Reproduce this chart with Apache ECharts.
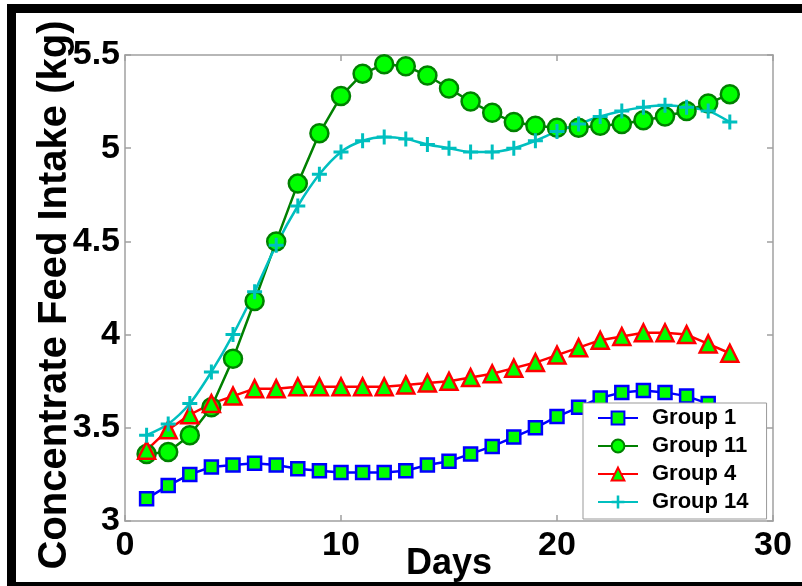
<!DOCTYPE html>
<html>
<head>
<meta charset="utf-8">
<script src="https://cdn.jsdelivr.net/npm/echarts@6/dist/echarts.min.js"></script>
<style>
html,body{margin:0;padding:0;background:#fff;}
#chart{width:802px;height:586px;}
</style>
</head>
<body>
<div id="chart"></div>
<script>
const days = [1,2,3,4,5,6,7,8,9,10,11,12,13,14,15,16,17,18,19,20,21,22,23,24,25,26,27,28];
const group1 = [3.12,3.19,3.25,3.29,3.30,3.31,3.30,3.28,3.27,3.26,3.26,3.26,3.27,3.30,3.32,3.36,3.40,3.45,3.50,3.56,3.61,3.66,3.69,3.70,3.69,3.67,3.63,3.59];
const group11 = [3.36,3.37,3.46,3.61,3.87,4.18,4.50,4.81,5.08,5.28,5.40,5.45,5.44,5.39,5.32,5.25,5.19,5.14,5.12,5.11,5.11,5.12,5.13,5.15,5.17,5.20,5.24,5.29];
const group4 = [3.38,3.49,3.57,3.63,3.67,3.71,3.71,3.72,3.72,3.72,3.72,3.72,3.73,3.74,3.75,3.77,3.79,3.82,3.85,3.89,3.93,3.97,3.99,4.01,4.01,4.00,3.95,3.90];
const group14 = [3.46,3.52,3.63,3.80,4.00,4.23,4.48,4.69,4.86,4.98,5.04,5.06,5.05,5.02,5.00,4.98,4.98,5.00,5.04,5.09,5.13,5.17,5.20,5.22,5.23,5.22,5.20,5.14];
const seriesNames = ['Group 1','Group 11','Group 4','Group 14'];
const xTitle = 'Days';
const yTitle = 'Concentrate Feed Intake (kg)';

const FONT = 'Liberation Sans, Arial, sans-serif';
const pair = arr => days.map((d,i)=>[d,arr[i]]);
const plusPath = 'path://M4,0h2v4h4v2h-4v4h-2v-4h-4v-2h4z';
const axisLineStyle = {color:'#a0a0a0', width:1.5};

const chart = echarts.init(document.getElementById('chart'), null, {renderer:'canvas'});
chart.setOption({
  animation:false,
  backgroundColor:'#ffffff',
  grid:{left:125, top:55, right:29, bottom:65, containLabel:false, outerBoundsMode:'none'},
  xAxis:[{
    type:'value', min:0, max:30, interval:10,
    name:xTitle, nameLocation:'middle', nameGap:25, nameMoveOverlap:false,
    nameTextStyle:{fontFamily:FONT, fontWeight:'bold', fontSize:36, color:'#000'},
    axisLine:{show:true, onZero:false, lineStyle:axisLineStyle},
    axisTick:{show:true, inside:true, length:6, lineStyle:axisLineStyle},
    axisLabel:{fontFamily:FONT, fontWeight:'bold', fontSize:34, color:'#000', margin:8},
    splitLine:{show:false}
  },{
    type:'value', min:0, max:30, interval:10, position:'top',
    axisLine:{show:true, onZero:false, lineStyle:axisLineStyle},
    axisTick:{show:true, inside:true, length:6, lineStyle:axisLineStyle},
    axisLabel:{show:false}, splitLine:{show:false}
  }],
  yAxis:[{
    type:'value', min:3, max:5.5, interval:0.5,
    name:yTitle, nameLocation:'middle', nameGap:50, nameRotate:90, nameMoveOverlap:false,
    nameTextStyle:{fontFamily:FONT, fontWeight:'bold', fontSize:40, color:'#000', padding:[0,14,0,0]},
    axisLine:{show:true, onZero:false, lineStyle:axisLineStyle},
    axisTick:{show:true, inside:true, length:6, lineStyle:axisLineStyle},
    axisLabel:{fontFamily:FONT, fontWeight:'bold', fontSize:34, color:'#000', margin:5},
    splitLine:{show:false}
  },{
    type:'value', min:3, max:5.5, interval:0.5, position:'right',
    axisLine:{show:true, onZero:false, lineStyle:axisLineStyle},
    axisTick:{show:true, inside:true, length:6, lineStyle:axisLineStyle},
    axisLabel:{show:false}, splitLine:{show:false}
  }],
  legend:{
    orient:'vertical', left:583, top:403,
    backgroundColor:'#fff', borderColor:'#999', borderWidth:1,
    padding:[4,18,6,14], itemWidth:40, itemHeight:16, itemGap:6,
    textStyle:{fontFamily:FONT, fontWeight:'bold', fontSize:22, color:'#000', lineHeight:22, padding:[0,0,0,9]},
    data:seriesNames
  },
  graphic:[
    {type:'rect', shape:{x:7,y:4,width:9,height:582}, style:{fill:'#000'}},
    {type:'rect', shape:{x:7,y:4,width:795,height:9}, style:{fill:'#000'}},
    {type:'rect', shape:{x:7,y:582,width:795,height:4}, style:{fill:'#000'}}
  ],
  series:[
    {name:seriesNames[0], type:'line', data:pair(group1), symbol:'rect', symbolSize:13,
     lineStyle:{color:'#0000ff', width:2.5}, itemStyle:{color:'#00ff00', borderColor:'#0000ff', borderWidth:2.5}},
    {name:seriesNames[1], type:'line', data:pair(group11), symbol:'circle', symbolSize:18,
     lineStyle:{color:'#008000', width:2.5}, itemStyle:{color:'#00ff00', borderColor:'#008000', borderWidth:2.5}},
    {name:seriesNames[2], type:'line', data:pair(group4), symbol:'triangle', symbolSize:17,
     lineStyle:{color:'#ff0000', width:2.5}, itemStyle:{color:'#00ff00', borderColor:'#ff0000', borderWidth:2.5}},
    {name:seriesNames[3], type:'line', data:pair(group14), symbol:plusPath, symbolSize:15, smooth:0.3,
     lineStyle:{color:'#00bfbf', width:2.5}, itemStyle:{color:'#00bfbf', borderWidth:0}}
  ]
});
</script>
</body>
</html>
